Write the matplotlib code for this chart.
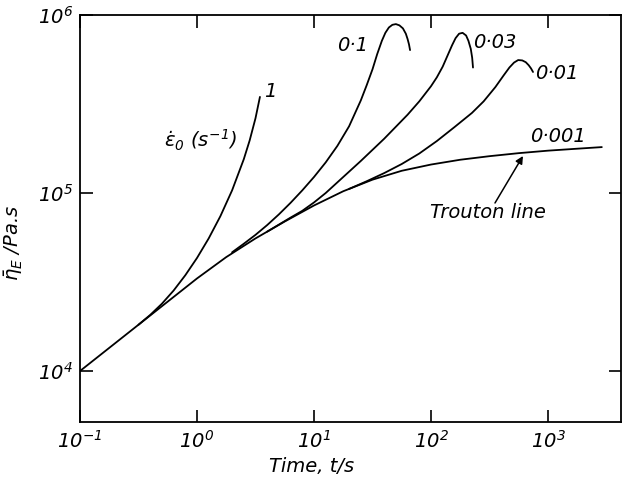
import numpy as np
import matplotlib
matplotlib.use('Agg')
import matplotlib.pyplot as plt
from matplotlib.ticker import FixedLocator, FixedFormatter, NullLocator

# values, stored as log10(t / s) and log10(eta / Pa.s)
trouton_logt = [-1.0, -0.75, -0.5, -0.25, 0.0, 0.25, 0.5, 0.75, 1.0, 1.25, 1.5, 1.75,
                2.0, 2.25, 2.5, 2.75, 3.0, 3.25, 3.46]
trouton_logeta = [4.0, 4.13, 4.26, 4.39, 4.52, 4.64, 4.745, 4.84, 4.93, 5.01, 5.075, 5.125,
                  5.16, 5.187, 5.207, 5.224, 5.238, 5.249, 5.258]

rate1_logt = [-0.5, -0.4, -0.3, -0.2, -0.1, 0.0, 0.1, 0.2, 0.3, 0.4, 0.45, 0.5, 0.538]
rate1_logeta = [4.26, 4.315, 4.378, 4.452, 4.538, 4.635, 4.745, 4.87, 5.015, 5.19, 5.295,
                5.42, 5.54]

rate01_logt = [0.3, 0.4, 0.5, 0.6, 0.7, 0.8, 0.9, 1.0, 1.1, 1.2, 1.3, 1.4, 1.45, 1.5,
               1.54, 1.58, 1.61, 1.64, 1.67, 1.70, 1.73, 1.76, 1.785, 1.80, 1.812, 1.821]
rate01_logeta = [4.667, 4.715, 4.765, 4.82, 4.88, 4.945, 5.015, 5.09, 5.172, 5.265, 5.375,
                 5.52, 5.605, 5.695, 5.78, 5.855, 5.9, 5.93, 5.945, 5.949, 5.942, 5.925,
                 5.895, 5.865, 5.835, 5.803]

rate003_logt = [0.6, 0.8, 0.9, 1.0, 1.1, 1.2, 1.4, 1.6, 1.8, 1.9, 2.0, 2.05, 2.1, 2.14,
                2.18, 2.21, 2.24, 2.27, 2.30, 2.32, 2.34, 2.352, 2.359]
rate003_logeta = [4.783, 4.862, 4.9, 4.947, 5.0, 5.06, 5.18, 5.305, 5.44, 5.515, 5.6, 5.65,
                  5.71, 5.77, 5.83, 5.87, 5.895, 5.9, 5.885, 5.855, 5.81, 5.76, 5.705]

rate001_logt = [1.3, 1.45, 1.6, 1.75, 1.9, 2.05, 2.2, 2.35, 2.45, 2.55, 2.62, 2.67, 2.71,
                2.745, 2.78, 2.81, 2.835, 2.855, 2.872]
rate001_logeta = [5.023, 5.066, 5.112, 5.163, 5.222, 5.292, 5.37, 5.45, 5.515, 5.595, 5.66,
                  5.705, 5.733, 5.747, 5.745, 5.735, 5.718, 5.7, 5.68]

x_ticks = [1e-1, 1e0, 1e1, 1e2, 1e3]
x_tick_labels = ['$10^{-1}$', '$10^{0}$', '$10^{1}$', '$10^{2}$', '$10^{3}$']
y_ticks = [1e4, 1e5, 1e6]
y_tick_labels = ['$10^{4}$', '$10^{5}$', '$10^{6}$']


def to_lin(vals):
    return np.power(10.0, np.asarray(vals))


def main():
    plt.rcParams['font.family'] = ['DejaVu Sans']
    # everything in the original is hand-lettered italic, maths included
    plt.rcParams['mathtext.fontset'] = 'custom'
    plt.rcParams['mathtext.rm'] = 'DejaVu Sans:italic'
    plt.rcParams['mathtext.it'] = 'DejaVu Sans:italic'
    plt.rcParams['mathtext.sf'] = 'DejaVu Sans:italic'
    plt.rcParams['mathtext.bf'] = 'DejaVu Sans:italic:bold'
    plt.rcParams['mathtext.default'] = 'it'
    fs = 14

    fig = plt.figure(figsize=(6.22, 4.8), dpi=100)
    ax = fig.add_axes([0.1286, 0.1208, 0.8698, 0.8479])

    curves = [(trouton_logt, trouton_logeta), (rate1_logt, rate1_logeta),
              (rate01_logt, rate01_logeta), (rate003_logt, rate003_logeta),
              (rate001_logt, rate001_logeta)]
    for lt, le in curves:
        ax.plot(to_lin(lt), to_lin(le), color='black', lw=1.3,
                solid_capstyle='round', solid_joinstyle='round')

    ax.set_xscale('log')
    ax.set_yscale('log')
    ax.set_xlim(1e-1, 10 ** 3.624)
    ax.set_ylim(10 ** 3.7135, 1e6)

    ax.xaxis.set_major_locator(FixedLocator(x_ticks))
    ax.xaxis.set_major_formatter(FixedFormatter(x_tick_labels))
    ax.yaxis.set_major_locator(FixedLocator(y_ticks))
    ax.yaxis.set_major_formatter(FixedFormatter(y_tick_labels))
    ax.xaxis.set_minor_locator(NullLocator())
    ax.yaxis.set_minor_locator(NullLocator())
    ax.tick_params(which='major', direction='in', top=True, right=True,
                   length=9, width=1.2, labelsize=fs)
    ax.tick_params(axis='x', pad=6)
    ax.tick_params(axis='y', pad=5)
    for sp in ax.spines.values():
        sp.set_linewidth(1.3)

    ax.set_xlabel('Time, t/s', fontsize=fs, style='italic')
    ax.xaxis.set_label_coords(0.428, -0.086)
    ax.set_ylabel(r'$\bar{\eta}_E$ /Pa.s', fontsize=fs, style='italic')
    ax.yaxis.set_label_coords(-0.102, 0.44)

    # curve labels
    ax.text(10 ** 0.573, 10 ** 5.573, '1', fontsize=fs, style='italic', ha='left', va='center')
    ax.text(10 ** 0.342, 10 ** 5.298, r'$\dot{\varepsilon}_0\ (s^{-1})$', fontsize=fs,
            ha='right', va='center')
    ax.text(10 ** 1.462, 10 ** 5.826, '0·1', fontsize=fs, style='italic', ha='right', va='center')
    ax.text(10 ** 2.359, 10 ** 5.848, '0·03', fontsize=fs, style='italic', ha='left', va='center')
    ax.text(10 ** 2.889, 10 ** 5.669, '0·01', fontsize=fs, style='italic', ha='left', va='center')
    ax.text(10 ** 2.846, 10 ** 5.320, '0·001', fontsize=fs, style='italic', ha='left', va='center')
    ax.text(10 ** 1.991, 10 ** 4.888, 'Trouton line', fontsize=fs, style='italic',
            ha='left', va='center')
    ax.annotate('', xy=(10 ** 2.786, 10 ** 5.208), xytext=(10 ** 2.547, 10 ** 4.944),
                arrowprops=dict(arrowstyle='-|>', lw=1.1, color='black',
                                mutation_scale=11, shrinkA=0, shrinkB=0))

    fig.savefig('out.png', dpi=100)


if __name__ == '__main__':
    main()
